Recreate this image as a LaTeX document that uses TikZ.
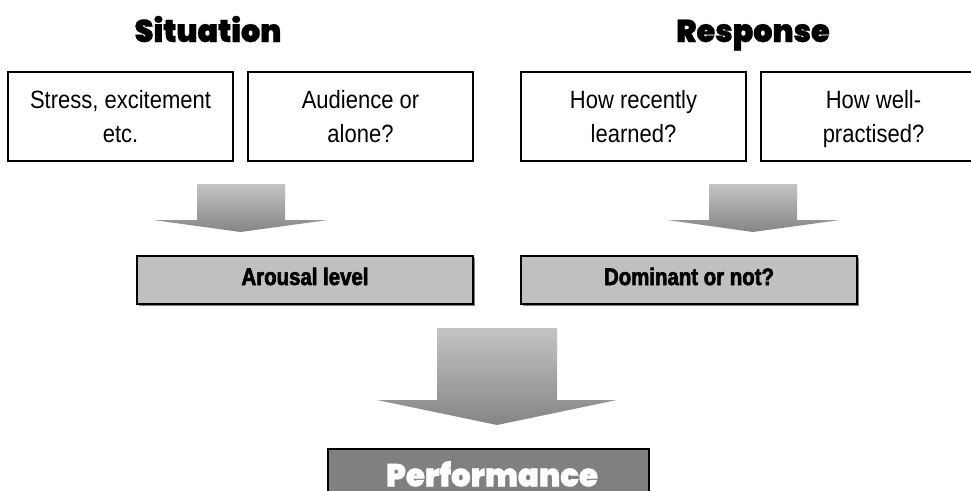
\documentclass[tikz,border=0pt]{standalone}
\usepackage{fontspec}
\usetikzlibrary{shadows}
\setmainfont{Liberation Sans}
\newfontfamily\narrowfont{Liberation Sans}[FakeStretch=0.88]
\newfontfamily\condfont{Liberation Sans Bold}[FakeStretch=0.85,FakeBold=2.5]
\newfontfamily\heavyfont{Poppins Black}[FakeStretch=0.96,FakeBold=0.8]
\definecolor{boxgray}{HTML}{C0C0C0}
\definecolor{perfgray}{HTML}{808080}
\definecolor{arrtop}{HTML}{C4C4C4}
\definecolor{arrbot}{HTML}{858585}
\begin{document}
\begin{tikzpicture}[x=1pt,y=-1pt,
  titlelabel/.style={anchor=base,inner sep=0pt,font=\heavyfont\fontsize{31.5}{36}\selectfont},
  whitebox/.style={draw=black,line width=1.6pt,fill=white,minimum width=225pt,minimum height=89pt,
     inner sep=0pt,outer sep=0pt,align=center,text height=55pt,text depth=4pt,
     font=\narrowfont\fontsize{25}{34}\selectfont},
  graybox/.style={draw=black,line width=1.6pt,fill=boxgray,minimum width=336pt,minimum height=48pt,
     inner sep=0pt,outer sep=0pt,text height=17pt,text depth=7pt,
     drop shadow={shadow xshift=1.6pt,shadow yshift=-1.6pt,fill=gray,opacity=1},
     font=\condfont\fontsize{24}{28}\selectfont},
  perfbox/.style={draw=black,line width=1.6pt,fill=perfgray,minimum width=321pt,minimum height=60pt,
     inner sep=0pt,outer sep=0pt},
  perflabel/.style={anchor=base,inner sep=0pt,text=white,font=\heavyfont\fontsize{32}{36}\selectfont},
  blockarrow/.style={top color=arrtop,bottom color=arrbot,draw=none}
]
\useasboundingbox (0,0) rectangle (971,490);

% titles
\node[titlelabel] (sit) at (208,42) {Situation};
\node[titlelabel] (resp) at (753,42) {Response};

% top boxes
\node[whitebox] (stress) at (120.5,116.5) {Stress, excitement\\etc.};
\node[whitebox] (aud) at (360.5,116.5) {Audience or\\alone?};
\node[whitebox] (recent) at (633.5,116.5) {How recently\\learned?};
\node[whitebox] (well) at (873.5,116.5) {How well-\\practised?};

% block arrows
\shade[blockarrow] (197,184) -- (285,184) -- (285,220) -- (328,220) -- (240.5,232)
   -- (153,220) -- (197,220) -- cycle;
\shade[blockarrow] (709,184) -- (797,184) -- (797,220) -- (840,220) -- (753,232)
   -- (667,220) -- (709,220) -- cycle;
\shade[blockarrow] (437,328) -- (557,328) -- (557,400) -- (617,400) -- (497,425)
   -- (377,400) -- (437,400) -- cycle;

% gray boxes
\node[graybox] (arousal) at (305,280) {Arousal level};
\node[graybox] (dominant) at (689,280) {Dominant or not?};

% performance
\node[perfbox] (perf) at (488.5,479) {};
\node[perflabel] (perftext) at (492,486.5) {Performance};
\end{tikzpicture}
\end{document}
